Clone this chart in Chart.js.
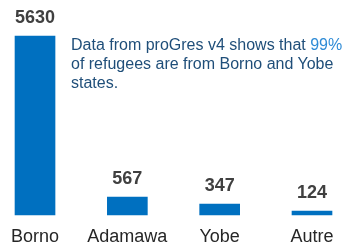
<!DOCTYPE html>
<html>
<head>
<meta charset="utf-8">
<script src="https://cdn.jsdelivr.net/npm/chart.js@4/dist/chart.umd.min.js"></script>
<style>
  html, body { margin: 0; padding: 0; background: #fff; }
  #wrap { position: relative; width: 349px; height: 248px; }
  #note {
    position: absolute; left: 71px; top: 35px; width: 280px;
    font: 16px "Liberation Sans", Arial, sans-serif; line-height: 19px;
    color: #1f4e79;
  }
  #note span { color: #2e8bd6; }
</style>
</head>
<body>
<div id="wrap">
  <canvas id="chart" width="349" height="248"></canvas>
  <div id="note">Data from proGres v4 shows that <span>99%</span> of refugees are from Borno and Yobe states.</div>
</div>
<script>
// regions of origin and refugee counts
const regions = ['Borno', 'Adamawa', 'Yobe', 'Autre'];
const refugees = [5630, 567, 347, 124];

// draw the value above each bar
const valueLabels = {
  id: 'valueLabels',
  afterDatasetsDraw(chart) {
    const ctx = chart.ctx;
    const meta = chart.getDatasetMeta(0);
    ctx.save();
    ctx.font = 'bold 18px "Liberation Sans", Arial, sans-serif';
    ctx.fillStyle = '#404040';
    ctx.textAlign = 'center';
    ctx.textBaseline = 'middle';
    meta.data.forEach((bar, i) => {
      ctx.fillText(String(refugees[i]), bar.x, bar.y - 18);
    });
    ctx.restore();
  }
};

new Chart(document.getElementById('chart'), {
  type: 'bar',
  data: {
    labels: regions,
    datasets: [{
      data: refugees,
      backgroundColor: '#0070c0',
      barThickness: 40,
      clip: false
    }]
  },
  options: {
    responsive: false,
    animation: false,
    layout: { padding: { left: 29, right: 37, top: 0, bottom: 0 } },
    plugins: { legend: { display: false }, tooltip: { enabled: false } },
    scales: {
      x: {
        offset: false,
        grid: { display: false, drawTicks: false },
        border: { display: false },
        afterFit(scale) { scale.height = 33; },
        ticks: {
          padding: 11,
          color: '#262626',
          font: { family: '"Liberation Sans", Arial, sans-serif', size: 18 },
          maxRotation: 0,
          autoSkip: false
        }
      },
      y: {
        display: false,
        min: 0,
        max: 6762
      }
    }
  },
  plugins: [valueLabels]
});
</script>
</body>
</html>
